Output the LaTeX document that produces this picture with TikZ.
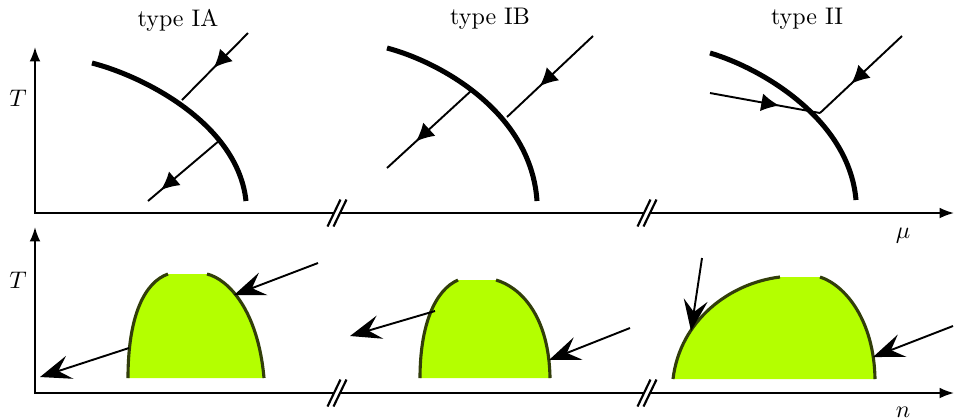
\documentclass[tikz,border=0pt]{standalone}
\usetikzlibrary{arrows.meta,decorations.markings}
\definecolor{limefill}{RGB}{180,255,0}
\definecolor{rimcol}{RGB}{50,62,10}
\begin{document}
\begin{tikzpicture}[x=0.4167pt,y=-0.4167pt,
  axisline/.style={line width=0.8pt,{Latex[length=6pt,width=4.5pt]}-{Latex[length=6pt,width=4.5pt]}},
  phaseline/.style={line width=2.1pt},
  flow/.style={line width=0.8pt,decoration={markings,mark=at position #1 with {\arrow{Latex[length=7.5pt,width=7.5pt]}}},postaction={decorate}},
  flow/.default=0.5,
  push/.style={line width=0.8pt,-{Stealth[length=13pt,width=10pt,inset=5pt]}},
  rim/.style={draw=rimcol,line width=1.3pt},
  brk/.style={line width=0.9pt},
  lbl/.style={inner sep=0pt}]
\useasboundingbox (0,0) rectangle (955,419);

% ---------- labels ----------
\node[lbl] (tIA) at (178,20) {type IA};
\node[lbl] (tIB) at (490,19) {type IB};
\node[lbl] (tII) at (807,19) {type II};
\node[lbl] (T1) at (18,98) {$T$};
\node[lbl] (T2) at (18,280) {$T$};
\node[lbl] (mu) at (903,236) {$\mu$};
\node[lbl] (nn) at (903,412) {$n$};

% ---------- axes ----------
\coordinate (o1) at (35,213);
\coordinate (y1) at (35,47);
\coordinate (x1) at (954,213);
\coordinate (o2) at (35,393);
\coordinate (y2) at (35,227);
\coordinate (x2) at (954,393);
\draw[axisline] (y1) -- (o1) -- (x1);
\draw[axisline] (y2) -- (o2) -- (x2);

% axis breaks
\foreach \cx/\cy in {337/213,647/213,337/393,647/393}{
  \fill[white] (\cx-9.5,\cy+13.5) -- (\cx+3.5,\cy-13.5) -- (\cx+9.5,\cy-13.5) -- (\cx-3.5,\cy+13.5) -- cycle;
  \draw[brk] (\cx-9.5,\cy+13.5) -- (\cx+3.5,\cy-13.5);
  \draw[brk] (\cx-3.5,\cy+13.5) -- (\cx+9.5,\cy-13.5);
}

% ---------- top row: phase boundaries ----------
% type IA
\coordinate (a1s) at (92,63);
\coordinate (a1e) at (246,201);
\draw[phaseline] (a1s) .. controls (146,77) and (238,125) .. (a1e);
\coordinate (a1p) at (248,33);
\coordinate (a1q) at (182,100);
\coordinate (a1r) at (220,140);
\coordinate (a1t) at (148,201);
\draw[flow=0.52] (a1p) -- (a1q);
\draw[flow=0.82] (a1r) -- (a1t);

% type IB
\coordinate (b1s) at (387,48);
\coordinate (b1e) at (537,201);
\draw[phaseline] (b1s) .. controls (440,62) and (531,112) .. (b1e);
\coordinate (b1p) at (593,36);
\coordinate (b1q) at (507,117);
\coordinate (b1r) at (472,90);
\coordinate (b1t) at (387,168);
\draw[flow=0.62] (b1p) -- (b1q);
\draw[flow=0.66] (b1r) -- (b1t);

% type II
\coordinate (c1s) at (710,53);
\coordinate (c1e) at (856,200);
\draw[phaseline] (c1s) .. controls (761,68) and (849,119) .. (c1e);
\coordinate (c1p) at (902,36);
\coordinate (c1q) at (820,113);
\coordinate (c1r) at (710,93);
\draw[flow=0.62] (c1p) -- (c1q);
\draw[flow=0.63] (c1r) -- (c1q);

% ---------- bottom row: coexistence regions ----------
% type IA
\fill[limefill] (128,378) .. controls (128,315) and (145,282) .. (168,274) -- (207,274)
   .. controls (228,279) and (258,310) .. (264,378) -- cycle;
\draw[rim] (128,378) .. controls (128,315) and (145,282) .. (168,274);
\draw[rim] (207,274) .. controls (228,279) and (258,310) .. (264,378);
\coordinate (a2p) at (318,263);
\coordinate (a2q) at (234,295);
\coordinate (a2r) at (129,348);
\coordinate (a2t) at (40,377);
\draw[push] (a2p) -- (a2q);
\draw[push] (a2r) -- (a2t);

% type IB
\fill[limefill] (420,378) .. controls (420,325) and (435,290) .. (458,280) -- (496,280)
   .. controls (520,287) and (549,315) .. (550,378) -- cycle;
\draw[rim] (420,378) .. controls (420,325) and (435,290) .. (458,280);
\draw[rim] (496,280) .. controls (520,287) and (549,315) .. (550,378);
\coordinate (b2p) at (435,311);
\coordinate (b2q) at (350,336);
\coordinate (b2r) at (630,328);
\coordinate (b2t) at (549,360);
\draw[push] (b2p) -- (b2q);
\draw[push] (b2r) -- (b2t);

% type II
\fill[limefill] (673,379) .. controls (680,320) and (730,283) .. (780,277) -- (820,277)
   .. controls (845,285) and (874,320) .. (875,379) -- cycle;
\draw[rim] (673,379) .. controls (680,320) and (730,283) .. (780,277);
\draw[rim] (820,277) .. controls (845,285) and (874,320) .. (875,379);
\coordinate (c2p) at (702,258);
\coordinate (c2q) at (691,331);
\coordinate (c2r) at (953,326);
\coordinate (c2t) at (873,357);
\draw[push] (c2p) -- (c2q);
\draw[push] (c2r) -- (c2t);
\end{tikzpicture}
\end{document}
